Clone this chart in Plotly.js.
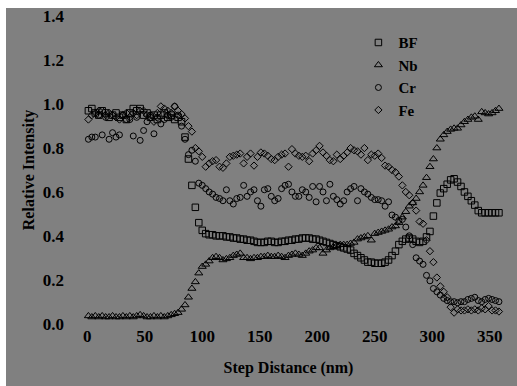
<!DOCTYPE html>
<html>
<head>
<meta charset="utf-8">
<script src="https://cdn.plot.ly/plotly-3.0.1.min.js"></script>
<style>
html,body{margin:0;padding:0;background:#ffffff;}
#chart{position:absolute;left:6px;top:8px;width:511px;height:378px;}
</style>
</head>
<body>
<div id="chart"></div>
<script>
var stepDistance = [1,4,7,10,13,16,19,22,25,28,31,34,37,40,43,46,49,52,55,58,61,64,67,70,73,76,79,82,85,88,91,94,97,100,103,106,109,112,115,118,121,124,127,130,133,136,139,142,145,148,151,154,157,160,163,166,169,172,175,178,181,184,187,190,193,196,199,202,205,208,211,214,217,220,223,226,229,232,235,238,241,244,247,250,253,256,259,262,265,268,271,274,277,280,283,286,289,292,295,298,301,304,307,310,313,316,319,322,325,328,331,334,337,340,343,346,349,352,355,358];

var bf = [0.97,0.98,0.96,0.95,0.97,0.96,0.94,0.95,0.96,0.94,0.95,0.93,0.96,0.98,0.97,0.98,0.95,0.96,0.94,0.95,0.93,0.95,0.96,0.94,0.95,0.93,0.94,
0.92,0.85,0.75,0.63,0.53,0.46,0.425,0.41,0.405,0.405,0.40,0.40,0.40,0.395,0.395,0.39,0.39,0.385,0.385,0.38,0.38,0.375,0.37,0.37,0.37,0.375,0.375,0.37,0.37,0.375,0.375,0.38,0.38,0.385,0.385,0.39,0.39,0.39,0.385,0.385,0.38,0.375,0.37,0.365,0.36,0.355,0.35,0.345,0.34,0.335,0.32,0.31,0.30,0.29,0.28,0.28,0.275,0.275,0.275,0.28,0.29,0.31,0.33,0.36,0.375,0.385,0.39,0.385,0.375,0.37,0.375,0.395,0.42,0.49,0.55,0.595,0.615,0.635,0.655,0.66,0.645,0.625,0.60,0.58,0.56,0.54,0.515,0.505,0.505,0.505,0.505,0.505,0.505];

var nb = [0.035,0.03,0.035,0.03,0.035,0.03,0.03,0.035,0.03,0.03,0.035,0.03,0.035,0.03,0.035,0.04,0.035,0.03,0.03,0.035,0.03,0.035,0.03,0.035,0.04,
0.045,0.05,0.065,0.085,0.12,0.16,0.19,0.23,0.26,0.27,0.285,0.30,0.305,0.30,0.29,0.295,0.30,0.31,0.315,0.32,0.30,0.30,0.295,0.30,0.30,0.305,0.305,0.31,0.305,0.305,0.31,0.305,0.30,0.31,0.315,0.32,0.315,0.31,0.32,0.33,0.335,0.345,0.345,0.32,0.335,0.345,0.35,0.355,0.36,0.36,0.36,0.365,0.37,0.385,0.39,0.395,0.40,0.38,0.41,0.415,0.42,0.425,0.43,0.44,0.445,0.46,0.485,0.51,0.535,0.55,0.57,0.60,0.63,0.665,0.715,0.75,0.80,0.84,0.86,0.875,0.885,0.89,0.89,0.905,0.92,0.93,0.94,0.945,0.93,0.965,0.96,0.955,0.96,0.97,0.98];

var cr = [0.84,0.85,0.85,0.95,0.86,0.94,0.84,0.87,0.85,0.86,0.95,0.93,0.93,0.855,0.94,0.835,0.88,0.92,0.95,0.865,0.94,0.91,0.93,0.95,0.94,0.99,0.95,
0.90,0.84,0.77,0.79,0.74,0.64,0.63,0.615,0.60,0.59,0.575,0.57,0.56,0.61,0.56,0.545,0.57,0.575,0.63,0.58,0.60,0.61,0.56,0.535,0.61,0.615,0.58,0.56,0.57,0.615,0.63,0.635,0.60,0.58,0.58,0.61,0.60,0.575,0.625,0.555,0.625,0.60,0.56,0.635,0.58,0.565,0.545,0.56,0.60,0.615,0.625,0.56,0.615,0.60,0.59,0.575,0.565,0.565,0.56,0.535,0.555,0.495,0.485,0.47,0.475,0.44,0.40,0.36,0.30,0.285,0.27,0.22,0.195,0.16,0.145,0.13,0.115,0.105,0.10,0.10,0.095,0.10,0.10,0.11,0.115,0.12,0.105,0.10,0.11,0.115,0.11,0.105,0.10];

var fe = [0.93,0.95,0.96,0.97,0.97,0.95,0.96,0.95,0.94,0.93,0.95,0.96,0.94,0.96,0.95,0.97,0.97,0.95,0.94,0.92,0.96,0.99,0.98,0.97,0.96,0.99,0.97,
0.955,0.935,0.90,0.875,0.80,0.785,0.76,0.715,0.73,0.74,0.745,0.715,0.71,0.73,0.76,0.765,0.77,0.775,0.73,0.76,0.775,0.72,0.76,0.78,0.775,0.765,0.75,0.745,0.76,0.77,0.775,0.715,0.795,0.775,0.765,0.76,0.765,0.74,0.775,0.79,0.81,0.78,0.765,0.745,0.74,0.77,0.75,0.765,0.78,0.80,0.79,0.785,0.77,0.80,0.745,0.77,0.765,0.775,0.755,0.72,0.715,0.70,0.69,0.67,0.63,0.60,0.585,0.55,0.515,0.465,0.455,0.38,0.33,0.28,0.21,0.17,0.145,0.12,0.075,0.05,0.065,0.06,0.06,0.065,0.06,0.065,0.06,0.07,0.065,0.08,0.06,0.06,0.055];

var seriesNames = ['BF','Nb','Cr','Fe'];
var xTickVals = [0,50,100,150,200,250,300,350];
var yTickVals = [0.0,0.2,0.4,0.6,0.8,1.0,1.2,1.4];
var yTickText = ['0.0','0.2','0.4','0.6','0.8','1.0','1.2','1.4'];

var fontFam = 'Liberation Serif';
function fnt(sz){ return {family: fontFam, size: sz, color: '#000000', weight: 'bold'}; }
function mk(y, name, sym, size){
  return {x: stepDistance, y: y, name: name, type: 'scatter', mode: 'markers',
    marker: {symbol: sym, size: size, color: 'rgba(0,0,0,0)', line: {color: '#000000', width: 1}}};
}
var data = [
  mk(bf, seriesNames[0], 'square', 6.5),
  mk(nb, seriesNames[1], 'triangle-up', 7),
  mk(cr, seriesNames[2], 'circle', 6),
  mk(fe, seriesNames[3], 'diamond', 5.6)
];
var layout = {
  width: 511, height: 378,
  paper_bgcolor: '#808080', plot_bgcolor: '#808080',
  margin: {l: 64, r: 10, t: 4, b: 58},
  font: fnt(16),
  showlegend: true,
  legend: {x: 0.66, y: 0.955, xanchor: 'left', yanchor: 'top', bgcolor: 'rgba(0,0,0,0)',
    font: fnt(15), tracegroupgap: 0},
  xaxis: {range: [-15, 365], tickvals: xTickVals, showgrid: false, zeroline: false, showline: false, ticks: '',
    tickfont: fnt(17), ticklabelstandoff: -4, ticklabeloverflow: 'allow',
    title: {text: 'Step Distance (nm)', font: fnt(16), standoff: 16}},
  yaxis: {range: [-0.02, 1.42], tickvals: yTickVals, ticktext: yTickText, showgrid: false, zeroline: false, showline: false, ticks: '',
    tickfont: fnt(17), ticklabelstandoff: 5, ticklabeloverflow: 'allow',
    title: {text: 'Relative Intensity', font: fnt(16), standoff: 4}}
};
Plotly.newPlot('chart', data, layout, {displayModeBar: false, staticPlot: true});
</script>
</body>
</html>
